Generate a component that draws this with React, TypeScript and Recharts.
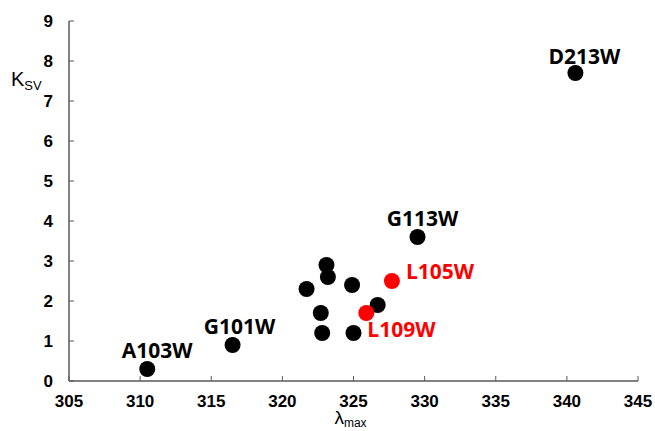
import React from 'react';
import { ScatterChart, Scatter, XAxis, YAxis, Label } from 'recharts';

// wild-type-like mutants, black
const blackNames = ['A103W', 'G101W', '', '', '', '', '', '', '', '', 'G113W', 'D213W'];
const blackLambda = [310.5, 316.5, 321.7, 322.7, 322.8, 323.1, 323.2, 324.9, 325.0, 326.7, 329.5, 340.6];
const blackKsv = [0.3, 0.9, 2.3, 1.7, 1.2, 2.9, 2.6, 2.4, 1.2, 1.9, 3.6, 7.7];

// highlighted mutants, red
const redNames = ['L105W', 'L109W'];
const redLambda = [327.7, 325.9];
const redKsv = [2.5, 1.7];

const xTicks = [305, 310, 315, 320, 325, 330, 335, 340, 345];
const yTicks = [0, 1, 2, 3, 4, 5, 6, 7, 8, 9];

const blackData = blackLambda.map((x, i) => ({ x, y: blackKsv[i], name: blackNames[i] }));
const redData = redLambda.map((x, i) => ({ x, y: redKsv[i], name: redNames[i] }));

// where each point label sits relative to its dot
const labelPlace: Record<string, { dx: number; dy: number; anchor: 'start' | 'middle' }> = {
  A103W: { dx: 10, dy: -11, anchor: 'middle' },
  G101W: { dx: 7, dy: -11, anchor: 'middle' },
  G113W: { dx: 5, dy: -11, anchor: 'middle' },
  D213W: { dx: 9, dy: -9, anchor: 'middle' },
  L105W: { dx: 14, dy: -2, anchor: 'start' },
  L109W: { dx: 1, dy: 24, anchor: 'start' },
};

const AXIS = '#595959';
const tickStyle = { fontFamily: '"Liberation Sans", Arial, sans-serif', fontSize: 17, fontWeight: 700, fill: '#000' };

const makeDot = (color: string) => (props: any) => {
  const { cx, cy, payload } = props;
  const place = labelPlace[payload.name];
  return (
    <g>
      <circle cx={cx} cy={cy} r={8} fill={color} />
      {place && (
        <text
          x={cx + place.dx}
          y={cy + place.dy}
          textAnchor={place.anchor}
          fill={color}
          fontFamily='"Open Sans", sans-serif'
          fontWeight={700}
          fontSize={21}
        >
          {payload.name}
        </text>
      )}
    </g>
  );
};

const App: React.FC = () => {
  return (
    <div style={{ position: 'absolute', left: 0, top: 0, background: '#fff' }}>
      <ScatterChart width={655} height={431} margin={{ top: 21, right: 17, bottom: 0, left: 29 }}>
        <XAxis
          type="number"
          dataKey="x"
          domain={[305, 345]}
          ticks={xTicks}
          tickSize={-5}
          tickMargin={19}
          height={50}
          stroke={AXIS}
          tick={tickStyle}
          axisLine={{ stroke: AXIS, strokeWidth: 1.5 }}
          tickLine={{ stroke: AXIS }}
        >
          <Label
            content={({ viewBox }: any) => (
              <text x={viewBox.x + viewBox.width / 2 - 3} y={424} textAnchor="middle" fontFamily='"Liberation Sans", Arial, sans-serif' fill="#000">
                <tspan fontSize={19}>λ</tspan>
                <tspan fontSize={12} dy={3}>max</tspan>
              </text>
            )}
          />
        </XAxis>
        <YAxis
          type="number"
          dataKey="y"
          domain={[0, 9]}
          ticks={yTicks}
          tickSize={-5}
          tickMargin={21}
          width={40}
          stroke={AXIS}
          tick={tickStyle}
          axisLine={{ stroke: AXIS, strokeWidth: 1.5 }}
          tickLine={{ stroke: AXIS }}
        >
          <Label
            content={() => (
              <text x={11} y={86} fontFamily='"Liberation Sans", Arial, sans-serif' fill="#000">
                <tspan fontSize={20}>K</tspan>
                <tspan fontSize={13} dy={4}>SV</tspan>
              </text>
            )}
          />
        </YAxis>
        <Scatter data={blackData} fill="#000" shape={makeDot('#000')} isAnimationActive={false} />
        <Scatter data={redData} fill="#ff0000" shape={makeDot('#ff0000')} isAnimationActive={false} />
      </ScatterChart>
    </div>
  );
};

export default App;
